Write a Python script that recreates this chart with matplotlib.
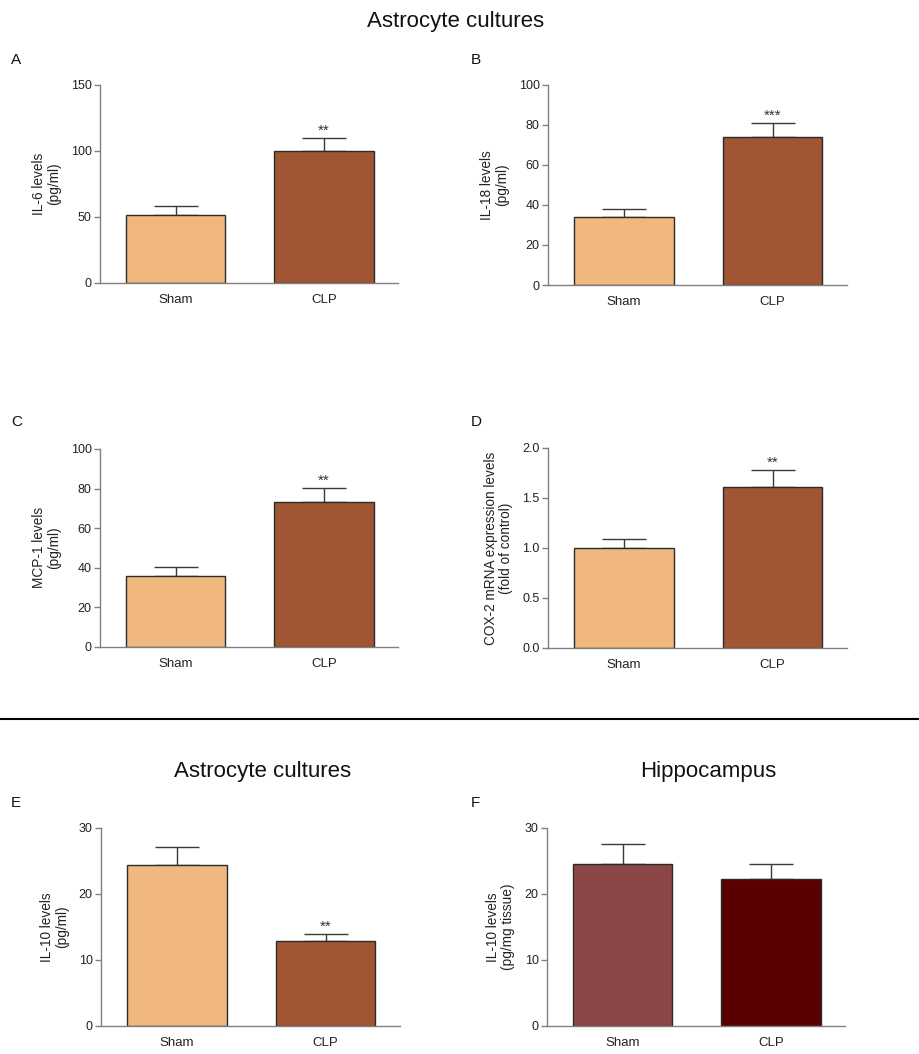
import matplotlib.pyplot as plt
from matplotlib.lines import Line2D

plt.rcParams['font.family'] = ['Liberation Sans', 'DejaVu Sans']

# groups on the x axis
groups = ["Sham", "CLP"]

# mean values per panel
il6 = [51.7, 100.0]
il6_err = [6.9, 9.8]
il18 = [33.8, 74.0]
il18_err = [4.2, 7.0]
mcp1 = [35.9, 73.3]
mcp1_err = [4.4, 7.1]
cox2 = [1.00, 1.61]
cox2_err = [0.09, 0.17]
il10_astro = [24.4, 12.8]
il10_astro_err = [2.7, 1.2]
il10_hippo = [24.5, 22.2]
il10_hippo_err = [3.0, 2.3]

# stars over the CLP bar ("" = nothing)
stars_A = ["", "**"]
stars_B = ["", "***"]
stars_C = ["", "**"]
stars_D = ["", "**"]
stars_E = ["", "**"]
stars_F = ["", ""]

light = "#F0B87E"
brown = "#A15633"
hippo_colors = ["#8B4747", "#5A0000"]

fig = plt.figure(figsize=(9.2, 10.54), dpi=100)


def bar_panel(rect, vals, errs, stars, colors, ylabel, ymax, yticks, fmt=None, letter="", lx=0.0, ly=0.0):
    ax = fig.add_axes(rect)
    x = [0, 1]
    ax.bar(x, vals, width=0.67, color=colors, edgecolor="#2b2b2b", linewidth=1.0, zorder=2)
    # only upper half of the error bar
    ax.errorbar(x, vals, yerr=[[0, 0], errs], fmt="none", ecolor="#3a3a3a",
                elinewidth=1.0, capsize=16, capthick=1.0, zorder=1)
    for i in range(2):
        if stars[i]:
            ax.annotate(stars[i], (x[i], vals[i] + errs[i]), xytext=(0, 0),
                        textcoords="offset points", ha="center", va="bottom",
                        fontsize=11, color="#333333")
    ax.set_xlim(-0.51, 1.5)
    ax.set_ylim(0, ymax)
    ax.set_yticks(yticks)
    if fmt:
        ax.set_yticklabels([fmt % t for t in yticks])
    ax.set_xticks(x)
    ax.set_xticklabels(groups)
    ax.tick_params(axis="x", length=0, pad=8, labelsize=9.5, colors="#222222")
    ax.tick_params(axis="y", length=4, width=1, pad=2, labelsize=9, colors="#222222", color="#808080")
    for s in ["top", "right"]:
        ax.spines[s].set_visible(False)
    for s in ["left", "bottom"]:
        ax.spines[s].set_color("#808080")
        ax.spines[s].set_linewidth(1.0)
    ax.set_ylabel(ylabel, fontsize=9.8, color="#222222", labelpad=7, linespacing=1.05)
    fig.text(lx, ly, letter, fontsize=11, color="#111111", ha="left", va="center")
    return ax


bar_panel([0.1087, 0.7315, 0.3239, 0.1879], il6, il6_err, stars_A, [light, brown],
          "IL-6 levels\n(pg/ml)", 150, [0, 50, 100, 150], letter="A", lx=0.012, ly=0.943)
bar_panel([0.5957, 0.7296, 0.325, 0.1898], il18, il18_err, stars_B, [light, brown],
          "IL-18 levels\n(pg/ml)", 100, [0, 20, 40, 60, 80, 100], letter="B", lx=0.512, ly=0.943)
bar_panel([0.1087, 0.3862, 0.3239, 0.1879], mcp1, mcp1_err, stars_C, [light, brown],
          "MCP-1 levels\n(pg/ml)", 100, [0, 20, 40, 60, 80, 100], letter="C", lx=0.012, ly=0.600)
bar_panel([0.5957, 0.3852, 0.325, 0.1898], cox2, cox2_err, stars_D, [light, brown],
          "COX-2 mRNA expression levels\n(fold of control)", 2.0, [0, 0.5, 1.0, 1.5, 2.0],
          fmt="%.1f", letter="D", lx=0.512, ly=0.600)
bar_panel([0.1098, 0.0266, 0.325, 0.1879], il10_astro, il10_astro_err, stars_E, [light, brown],
          "IL-10 levels\n(pg/ml)", 30, [0, 10, 20, 30], letter="E", lx=0.012, ly=0.238)
bar_panel([0.5946, 0.0266, 0.3239, 0.1879], il10_hippo, il10_hippo_err, stars_F, hippo_colors,
          "IL-10 levels\n(pg/mg tissue)", 30, [0, 10, 20, 30], letter="F", lx=0.512, ly=0.238)

# titles
fig.text(0.495, 0.980, "Astrocyte cultures", fontsize=16, ha="center", va="center", color="#111111")
fig.text(0.285, 0.268, "Astrocyte cultures", fontsize=16, ha="center", va="center", color="#111111")
fig.text(0.770, 0.268, "Hippocampus", fontsize=16, ha="center", va="center", color="#111111")

# separator line between top and bottom parts
fig.add_artist(Line2D([0, 1], [0.3178, 0.3178], color="black", linewidth=1.5))

plt.savefig("out.png", dpi=100)
